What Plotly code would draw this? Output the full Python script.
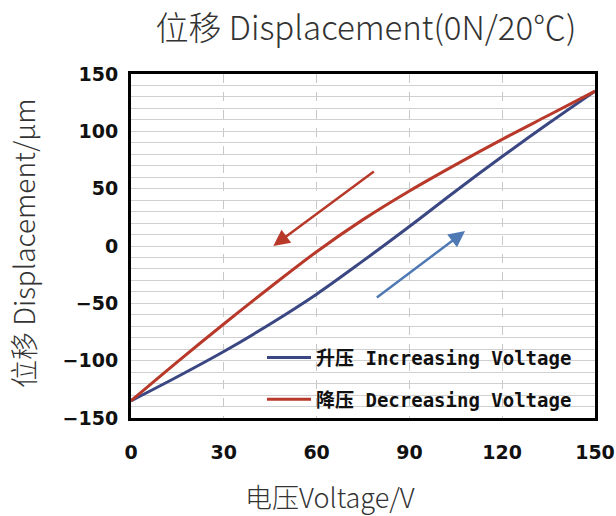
import plotly.graph_objects as go

voltage = [0, 15, 30, 45, 60, 75, 90, 105, 120, 135, 150]
disp_increasing = [-135, -114, -92, -68, -42, -13, 17, 48, 78, 107, 135]
disp_decreasing = [-135, -101, -68, -36, -5, 23, 48, 71, 93, 114, 135]

x_ticks = [0, 30, 60, 90, 120, 150]
y_ticks = [-150, -100, -50, 0, 50, 100, 150]

# arrows (tail -> tip) in data units
red_arrow_tail = (79, 66)
red_arrow_tip = (46, 0)
blue_arrow_tail = (79, -46)
blue_arrow_tip = (108, 13)

BLUE = "#3a4783"
RED = "#b8392a"
ARROW_BLUE = "#4f79b5"

W, H = 616, 516
ML, MR, MT, MB = 131, W - 595, 74, H - 418
PW = W - ML - MR
PH = H - MT - MB

fig = go.Figure()
fig.add_trace(go.Scatter(
    x=voltage, y=disp_increasing, mode="lines",
    line=dict(color=BLUE, width=3, shape="spline"),
    name="升压 Increasing Voltage", legendgroup="a",
))
fig.add_trace(go.Scatter(
    x=voltage, y=disp_decreasing, mode="lines",
    line=dict(color=RED, width=3, shape="spline"),
    name="降压 Decreasing Voltage", legendgroup="b",
))

for tail, tip, col in [(red_arrow_tail, red_arrow_tip, RED),
                       (blue_arrow_tail, blue_arrow_tip, ARROW_BLUE)]:
    fig.add_annotation(
        x=tip[0], y=tip[1], ax=tail[0], ay=tail[1],
        xref="x", yref="y", axref="x", ayref="y",
        showarrow=True, arrowhead=2, arrowsize=1.3, arrowwidth=2.5,
        arrowcolor=col, text="",
    )

TITLE_FONT = dict(family="Noto Sans CJK SC", color="#333333", weight=300)

# axis titles as annotations (positioned like the reference)
fig.add_annotation(
    text="电压Voltage/V", xref="paper", yref="paper",
    x=(330 - ML) / PW, y=-(496 - (MT + PH)) / PH,
    xanchor="center", yanchor="middle", showarrow=False,
    font=dict(size=27, **TITLE_FONT),
)
fig.add_annotation(
    text="位移 Displacement/μm", xref="paper", yref="paper",
    x=(23 - ML) / PW, y=1 - (243 - MT) / PH, textangle=-90,
    xanchor="center", yanchor="middle", showarrow=False,
    font=dict(size=28, **TITLE_FONT),
)

fig.update_layout(
    width=W, height=H,
    margin=dict(l=ML, r=MR, t=MT, b=MB, autoexpand=False),
    paper_bgcolor="white", plot_bgcolor="white",
    title=dict(text="位移 Displacement(0N/20℃)", x=366 / W, xanchor="center",
               y=1 - 28 / H, yanchor="middle",
               font=dict(size=33, **TITLE_FONT)),
    legend=dict(x=(262 - ML) / PW, y=-0.002, xanchor="left", yanchor="bottom",
                bgcolor="rgba(0,0,0,0)", tracegroupgap=14, itemwidth=44,
                font=dict(family="DejaVu Sans Mono, Noto Sans CJK SC", size=19,
                          color="#111111", weight="bold")),
    showlegend=True,
)

fig.update_xaxes(
    range=[0, 150], tickvals=x_ticks, ticktext=[str(v) for v in x_ticks],
    showline=True, linecolor="black", linewidth=3, mirror=True,
    showgrid=True, gridcolor="#c8c8c8", griddash="dash", gridwidth=1,
    zeroline=False, ticks="", ticklabelstandoff=15, automargin=False,
    tickfont=dict(family="DejaVu Sans", size=19, color="#111111", weight="bold"),
)
fig.update_yaxes(
    range=[-150, 150], tickvals=y_ticks,
    showline=True, linecolor="black", linewidth=3, mirror=True,
    showgrid=True, gridcolor="#d0d0d0", gridwidth=1,
    minor=dict(dtick=10, showgrid=True, gridcolor="#d0d0d0", gridwidth=1),
    zeroline=False, ticks="", ticklabelstandoff=6, automargin=False,
    tickfont=dict(family="DejaVu Sans", size=19, color="#111111", weight="bold"),
)

fig.write_html(
    "out.html",
    config={"displayModeBar": False},
    post_script="document.body.style.margin='0';document.body.style.overflow='hidden';",
)
